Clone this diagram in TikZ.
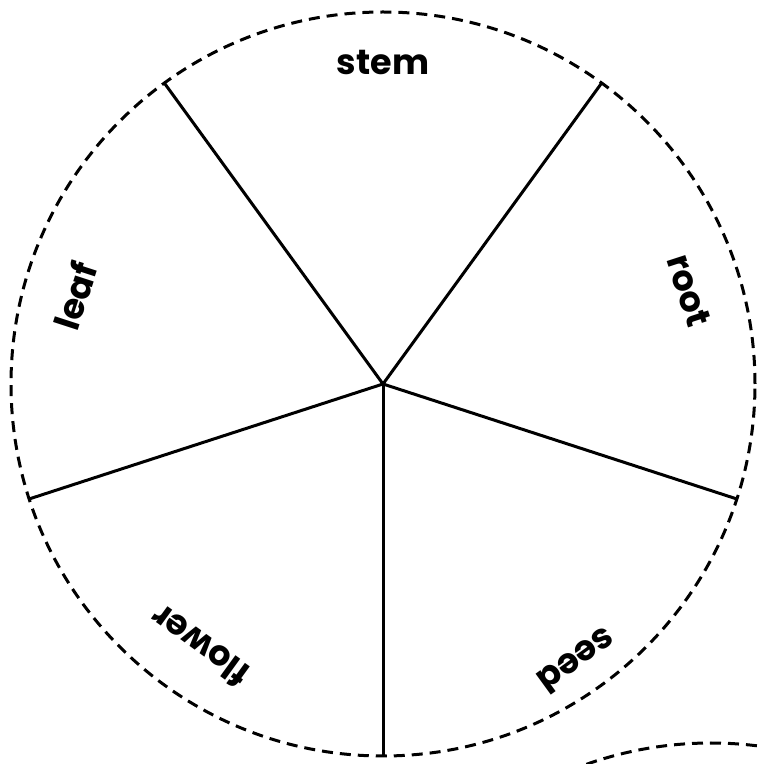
\documentclass[tikz,border=0pt]{standalone}
\usepackage{fontspec}
\setmainfont{Poppins}
\usetikzlibrary{calc}
\begin{document}
\begin{tikzpicture}[x=1pt,y=1pt,
  rim/.style={line width=3pt, dash pattern=on 11pt off 7pt},
  spoke/.style={line width=3pt},
  lbl/.style={font=\fontsize{35}{36}\selectfont\bfseries, inner sep=0pt}]
\useasboundingbox (0,0) rectangle (761,764);
\coordinate (c) at (383,380);
\begin{scope}
\clip (0,0) rectangle (761,764);
\draw[rim] (c) circle (372);
\draw[rim] (711,-352) circle (373);
\end{scope}
\foreach \a/\n in {-90/s1,-18/s2,54/s3,126/s4,198/s5}{
  \coordinate (\n) at ($(c)+(\a:372)$);
  \draw[spoke] (c) -- (\n);
}
\node[lbl, rotate=0]    (stem)   at ($(c)+(90:322)$)  {stem};
\node[lbl, rotate=-72]  (root)   at ($(c)+(17:320)$)  {root};
\node[lbl, rotate=72]   (leaf)   at ($(c)+(164:320)$) {leaf};
\node[lbl, rotate=144]  (flower) at ($(c)+(235:320)$) {flower};
\node[lbl, rotate=-144] (seed)   at ($(c)+(305:338)$) {seed};
\end{tikzpicture}
\end{document}
